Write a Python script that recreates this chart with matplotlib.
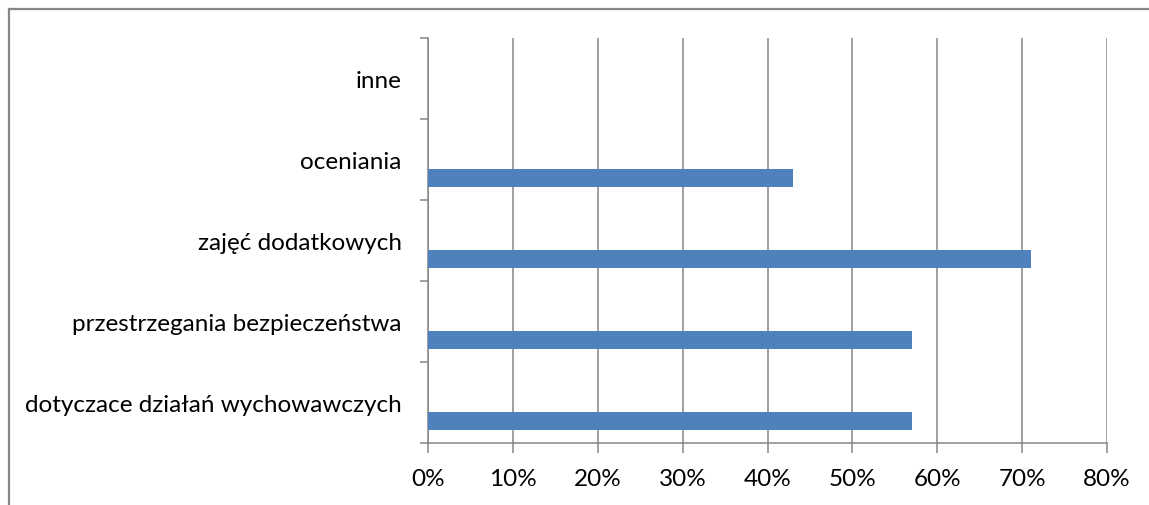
import numpy as np
import matplotlib.pyplot as plt
from matplotlib.lines import Line2D
from matplotlib.ticker import FixedLocator, PercentFormatter

categories = ["dotyczace działań wychowawczych", "przestrzegania bezpieczeństwa",
              "zajęć dodatkowych", "oceniania", "inne"]
values = [57, 57, 71, 43, 0]
x_ticks = [0, 10, 20, 30, 40, 50, 60, 70, 80]

GRAY = "#868686"
BAR = "#4F81BD"

plt.rcParams['font.family'] = ['Lato', 'DejaVu Sans']

fig = plt.figure(figsize=(11.49, 5.06), dpi=100)
ax = fig.add_axes([428 / 1149, 62 / 506, 679 / 1149, 405 / 506])

pos = np.arange(len(categories))
ax.barh(pos - 0.23, values, height=0.22, color=BAR, edgecolor="none", zorder=3)

ax.set_xlim(0, 80)
ax.set_ylim(-0.5, len(categories) - 0.5)
ax.xaxis.set_major_locator(FixedLocator(x_ticks))
ax.xaxis.set_major_formatter(PercentFormatter(decimals=0))
ax.grid(axis="x", color=GRAY, linewidth=1.1, zorder=0)

# category boundaries get the tick marks, labels sit between them
ax.set_yticks(np.arange(-0.5, len(categories), 1.0))
ax.set_yticklabels([])
ax.set_yticks(pos, minor=True)
ax.set_yticklabels(categories, minor=True)
ax.tick_params(axis="y", which="major", length=6, width=1.1, color=GRAY)
ax.tick_params(axis="y", which="minor", length=0, pad=19, labelsize=17.5)
ax.tick_params(axis="x", length=7, width=1.1, color=GRAY, pad=11, labelsize=17.5)

for side in ("top", "right"):
    ax.spines[side].set_visible(False)
for side in ("left", "bottom"):
    ax.spines[side].set_color(GRAY)
    ax.spines[side].set_linewidth(1.1)

# chart border
fig.add_artist(Line2D([8.5 / 1149, 8.5 / 1149], [0, 1 - 9.5 / 506],
                      transform=fig.transFigure, color=GRAY, linewidth=1.6))
fig.add_artist(Line2D([8.5 / 1149, 1], [1 - 9.5 / 506, 1 - 9.5 / 506],
                      transform=fig.transFigure, color=GRAY, linewidth=1.6))

fig.savefig("out.png", dpi=100)
